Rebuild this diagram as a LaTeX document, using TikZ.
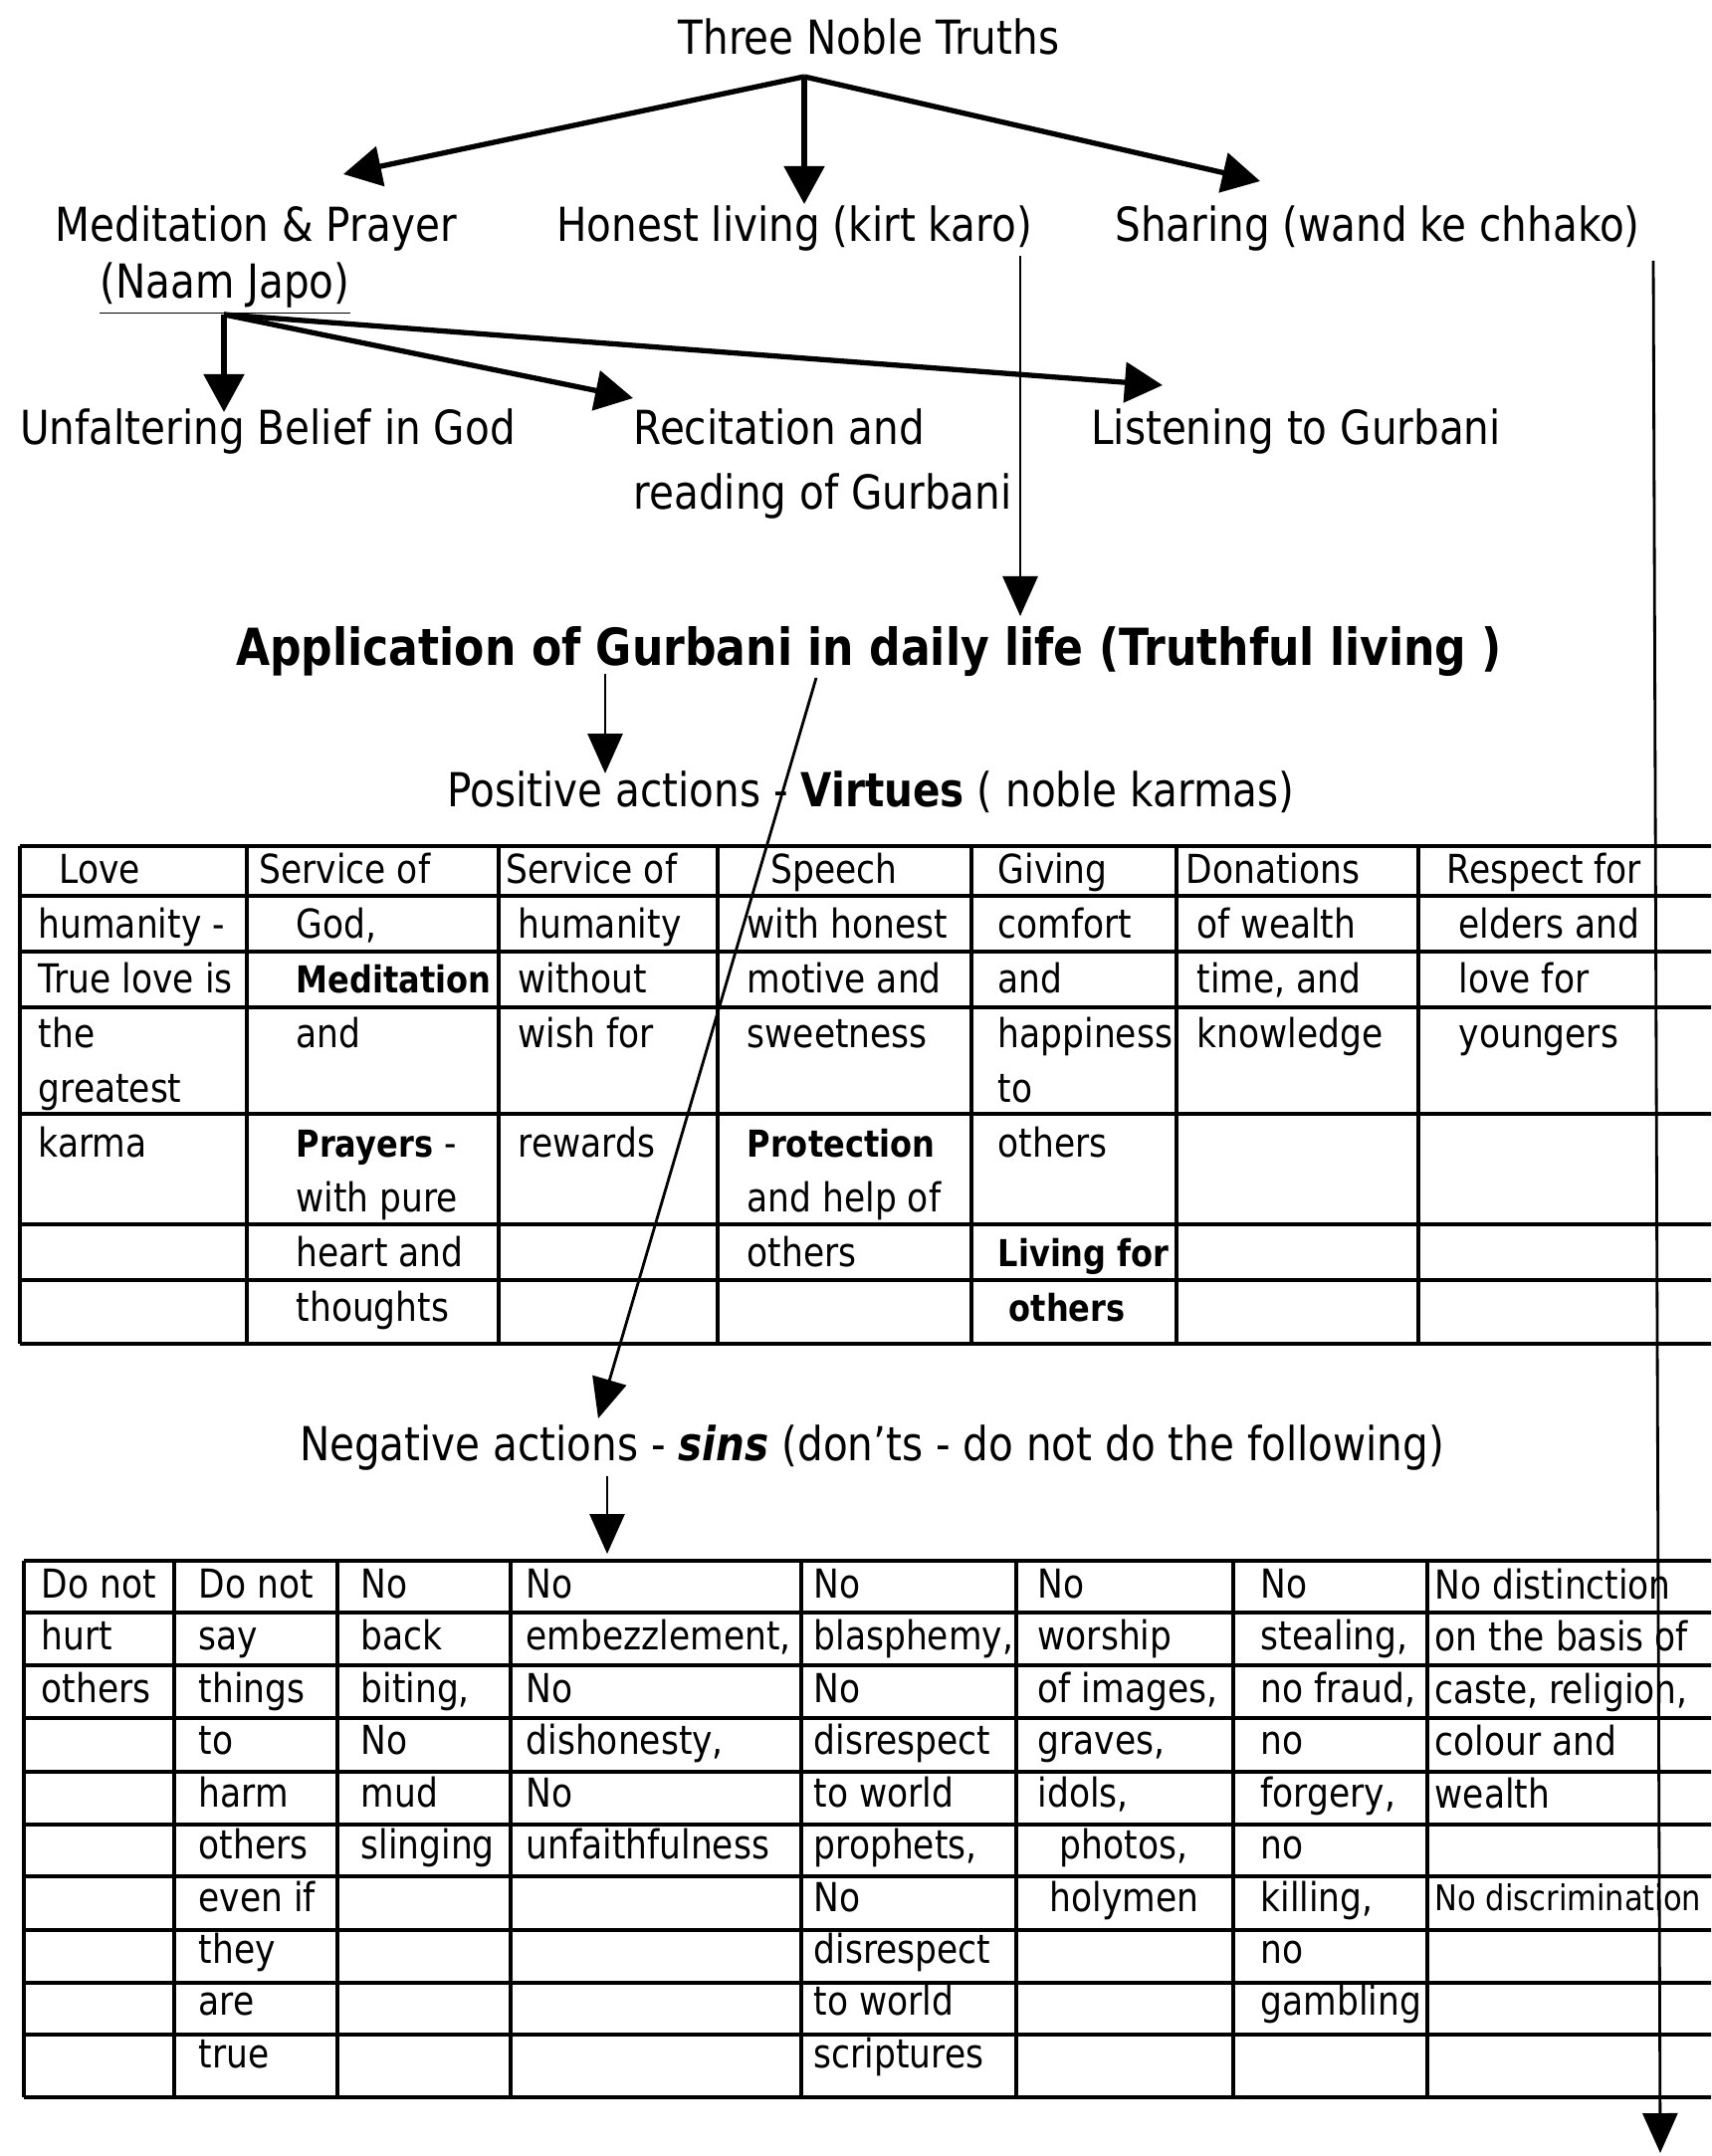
\documentclass[tikz,border=0pt]{standalone}
\usepackage{fontspec}
\setmainfont{DejaVu Sans}[FakeStretch=0.86]
\usetikzlibrary{arrows.meta}
\newcommand{\cellbf}[1]{{\fontsize{10.6}{15.62}\selectfont\bfseries #1}}

\begin{document}
\begin{tikzpicture}[
  head/.style={anchor=base, inner sep=0pt, font=\fontsize{13.4}{16}\selectfont},
  virtuecell/.style={anchor=north west, inner sep=0pt, align=left, yshift=10.93pt, font=\fontsize{11.4}{15.62}\selectfont, execute at begin node=\strut},
  sincell/.style={anchor=north west, inner sep=0pt, align=left, yshift=10.45pt, font=\fontsize{11.4}{14.93}\selectfont, execute at begin node=\strut},
  fan/.style={-{Triangle[length=3.8mm,width=4.0mm]}, line width=1.5pt},
  drop/.style={-{Triangle[length=4.0mm,width=3.5mm]}, line width=0.8pt},
  tabline/.style={line width=1.3pt}
]
\useasboundingbox (0,0) rectangle (17.19,-21.66);
\clip (0,0) rectangle (17.19,-21.66);

% the three truths
\node[head] (truths) at (8.73,-0.55) {Three Noble Truths};
\node[head] (meditation) at (2.57,-2.43) {Meditation \& Prayer};
\node[head] (naam) at (2.26,-3.00) {\underline{(Naam Japo)}};
\node[head] (honest) at (7.98,-2.43) {Honest living (kirt karo)};
\node[head] (sharing) at (13.84,-2.43) {Sharing (wand ke chhako)};

\coordinate (truths-fork) at (8.08,-0.77);
\coordinate (meditation-in) at (3.45,-1.75);
\coordinate (honest-in) at (8.08,-2.05);
\coordinate (sharing-in) at (12.66,-1.82);
\draw[fan] (truths-fork) -- (meditation-in);
\draw[fan] (truths-fork) -- (honest-in);
\draw[fan] (truths-fork) -- (sharing-in);

% naam japo
\node[head] (belief) at (2.69,-4.47) {Unfaltering Belief in God};
\node[head, anchor=base west] (recite) at (6.36,-4.47) {Recitation and};
\node[head, anchor=base west] (reading) at (6.36,-5.12) {reading of Gurbani};
\node[head] (listen) at (13.02,-4.47) {Listening to Gurbani};

\coordinate (naam-fork) at (2.25,-3.16);
\coordinate (belief-in) at (2.25,-4.14);
\coordinate (recite-in) at (6.36,-4.00);
\coordinate (listen-in) at (11.68,-3.87);
\draw[fan] (naam-fork) -- (belief-in);
\draw[fan] (naam-fork) -- (recite-in);
\draw[fan] (naam-fork) -- (listen-in);

% long drops
\coordinate (honest-out) at (10.25,-2.57);
\coordinate (app-in) at (10.25,-6.19);
\draw[drop] (honest-out) -- (app-in);
\coordinate (sharing-out) at (16.61,-2.62);
\coordinate (sharing-end) at (16.68,-21.63);
\draw[drop] (sharing-out) -- (sharing-end);

\node[head, font=\fontsize{14.6}{17}\selectfont\bfseries] (app) at (8.73,-6.69) {Application of Gurbani in daily life (Truthful living )};
\node[head] (positive) at (8.75,-8.10) {Positive actions - \textbf{Virtues} ( noble karmas)};
\node[head] (negative) at (8.76,-14.67) {Negative actions - \textbf{\textit{sins}} (don’ts - do not do the following)};

\coordinate (app-pos) at (6.08,-6.77);
\coordinate (positive-in) at (6.08,-7.77);
\draw[drop] (app-pos) -- (positive-in);
\coordinate (app-neg) at (8.20,-6.81);
\coordinate (negative-in) at (6.01,-14.25);
\draw[drop] (app-neg) -- (negative-in);
\coordinate (negative-out) at (6.10,-14.83);
\coordinate (sins-in) at (6.10,-15.61);
\draw[drop] (negative-out) -- (sins-in);

% virtues table
\foreach \y in {8.50,9.00,9.56,10.12,11.19,12.30,12.86,13.50}
  \draw[tabline] (0.20,-\y) -- (17.40,-\y);
\foreach \x in {0.20,2.48,5.01,7.21,9.76,11.82,14.25}
  \draw[tabline] (\x,-8.50) -- (\x,-13.50);

\node[virtuecell] (h-love) at (0.59,-8.87) {Love};
\node[virtuecell] (h-servgod) at (2.60,-8.87) {Service of};
\node[virtuecell] (h-servhum) at (5.08,-8.87) {Service of};
\node[virtuecell] (h-speech) at (7.74,-8.87) {Speech};
\node[virtuecell] (h-giving) at (10.02,-8.87) {Giving};
\node[virtuecell] (h-donate) at (11.91,-8.87) {Donations};
\node[virtuecell] (h-respect) at (14.53,-8.87) {Respect for};

\node[virtuecell] (love) at (0.38,-9.50) {humanity -\\True love is\\the\\greatest\\karma};
\node[virtuecell] (servgod) at (2.97,-9.50) {God,\\\cellbf{Meditation}\\and\\\mbox{}\\\cellbf{Prayers} -\\with pure\\heart and\\thoughts};
\node[virtuecell] (servhum) at (5.20,-9.50) {humanity\\without\\wish for\\\mbox{}\\rewards};
\node[virtuecell] (speech) at (7.50,-9.50) {with honest\\motive and\\sweetness\\\mbox{}\\\cellbf{Protection}\\and help of\\others};
\node[virtuecell] (giving) at (10.02,-9.50) {comfort\\and\\happiness\\to\\others\\\mbox{}\\\cellbf{Living for}\\\hspace*{0.11cm}\cellbf{others}};
\node[virtuecell] (donate) at (12.02,-9.50) {of wealth\\time, and\\knowledge};
\node[virtuecell] (respect) at (14.65,-9.50) {elders and\\love for\\youngers};

% sins table
\foreach \y in {15.68,16.20,16.73,17.26,17.80,18.33,18.85,19.39,19.92,20.44,21.07}
  \draw[tabline] (0.24,-\y) -- (17.40,-\y);
\foreach \x in {0.24,1.75,3.39,5.13,8.05,10.21,12.39,14.34}
  \draw[tabline] (\x,-15.68) -- (\x,-21.07);

\node[sincell] (hurt) at (0.41,-16.12) {Do not\\hurt\\others};
\node[sincell] (say) at (1.99,-16.12) {Do not\\say\\things\\to\\harm\\others\\even if\\they\\are\\true};
\node[sincell] (backbite) at (3.62,-16.12) {No\\back\\biting,\\No\\mud\\slinging};
\node[sincell] (embezzle) at (5.28,-16.12) {No\\embezzlement,\\No\\dishonesty,\\No\\unfaithfulness};
\node[sincell] (blasphemy) at (8.17,-16.12) {No\\blasphemy,\\No\\disrespect\\to world\\prophets,\\No\\disrespect\\to world\\scriptures};
\node[sincell] (worship) at (10.42,-16.12) {No\\worship\\of images,\\graves,\\idols,\\\hspace*{0.22cm}photos,\\\hspace*{0.12cm}holymen};
\node[sincell] (stealing) at (12.66,-16.12) {No\\stealing,\\no fraud,\\no\\forgery,\\no\\killing,\\no\\gambling};
\node[sincell] (distinction) at (14.41,-16.12) {No distinction\\on the basis of\\caste, religion,\\colour and\\wealth};
\node[sincell, font=\fontsize{10.1}{14.93}\selectfont] (discrim) at (14.41,-19.19) {No discrimination};

\end{tikzpicture}
\end{document}
